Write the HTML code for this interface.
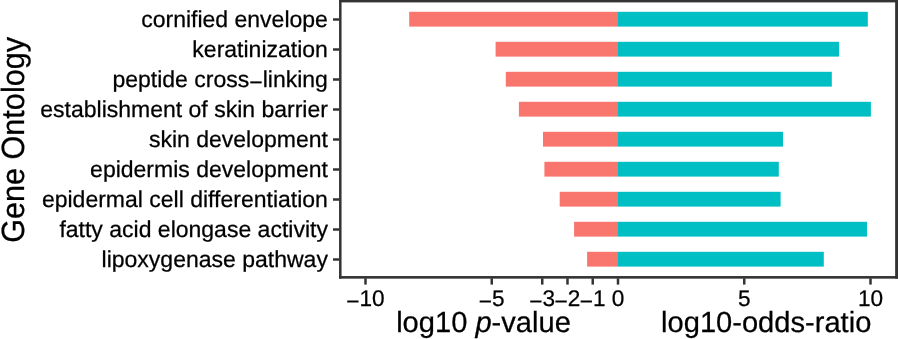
<!DOCTYPE html>
<html><head><meta charset="utf-8"><title>Gene Ontology</title>
<style>html,body{margin:0;padding:0;background:#fff}svg{display:block}text{text-rendering:geometricPrecision;font-family:"Liberation Sans",Arial,Helvetica,sans-serif;fill:#000;stroke:#000;stroke-width:0.25}</style></head>
<body>
<svg width="898" height="339" viewBox="0 0 898 339">
<rect x="0" y="0" width="898" height="339" fill="#ffffff"/>
<rect x="409.2" y="11.80" width="208.80" height="14.8" fill="#F8766D"/>
<rect x="618.0" y="11.80" width="249.80" height="14.8" fill="#00BFC4"/>
<rect x="495.6" y="41.80" width="122.40" height="14.8" fill="#F8766D"/>
<rect x="618.0" y="41.80" width="221.10" height="14.8" fill="#00BFC4"/>
<rect x="505.8" y="71.80" width="112.20" height="14.8" fill="#F8766D"/>
<rect x="618.0" y="71.80" width="213.80" height="14.8" fill="#00BFC4"/>
<rect x="518.9" y="101.80" width="99.10" height="14.8" fill="#F8766D"/>
<rect x="618.0" y="101.80" width="252.90" height="14.8" fill="#00BFC4"/>
<rect x="543.0" y="131.80" width="75.00" height="14.8" fill="#F8766D"/>
<rect x="618.0" y="131.80" width="165.00" height="14.8" fill="#00BFC4"/>
<rect x="544.4" y="161.80" width="73.60" height="14.8" fill="#F8766D"/>
<rect x="618.0" y="161.80" width="160.80" height="14.8" fill="#00BFC4"/>
<rect x="559.7" y="191.80" width="58.30" height="14.8" fill="#F8766D"/>
<rect x="618.0" y="191.80" width="162.60" height="14.8" fill="#00BFC4"/>
<rect x="574.1" y="221.80" width="43.90" height="14.8" fill="#F8766D"/>
<rect x="618.0" y="221.80" width="249.00" height="14.8" fill="#00BFC4"/>
<rect x="587.1" y="251.80" width="30.90" height="14.8" fill="#F8766D"/>
<rect x="618.0" y="251.80" width="205.80" height="14.8" fill="#00BFC4"/>
<rect x="339.05" y="0" width="558.95" height="2.4" fill="#333333"/>
<rect x="339.05" y="276.05" width="558.95" height="2.6" fill="#333333"/>
<rect x="339.05" y="0" width="2.5" height="278.65" fill="#333333"/>
<rect x="895.15" y="0" width="2.85" height="278.65" fill="#333333"/>
<line x1="333.0" x2="339.2" y1="19.50" y2="19.50" stroke="#333333" stroke-width="2.5"/>
<text x="327.9" y="27.20" font-size="23.0" text-anchor="end">cornified envelope</text>
<line x1="333.0" x2="339.2" y1="49.50" y2="49.50" stroke="#333333" stroke-width="2.5"/>
<text x="327.9" y="57.20" font-size="23.0" text-anchor="end">keratinization</text>
<line x1="333.0" x2="339.2" y1="79.50" y2="79.50" stroke="#333333" stroke-width="2.5"/>
<text x="327.9" y="87.20" font-size="23.0" text-anchor="end">peptide cross<tspan dy="2.6">−</tspan><tspan dy="-2.6">linking</tspan></text>
<line x1="333.0" x2="339.2" y1="109.50" y2="109.50" stroke="#333333" stroke-width="2.5"/>
<text x="327.9" y="117.20" font-size="23.0" text-anchor="end">establishment of skin barrier</text>
<line x1="333.0" x2="339.2" y1="139.50" y2="139.50" stroke="#333333" stroke-width="2.5"/>
<text x="327.9" y="147.20" font-size="23.0" text-anchor="end">skin development</text>
<line x1="333.0" x2="339.2" y1="169.50" y2="169.50" stroke="#333333" stroke-width="2.5"/>
<text x="327.9" y="177.20" font-size="23.0" text-anchor="end">epidermis development</text>
<line x1="333.0" x2="339.2" y1="199.50" y2="199.50" stroke="#333333" stroke-width="2.5"/>
<text x="327.9" y="207.20" font-size="23.0" text-anchor="end">epidermal cell differentiation</text>
<line x1="333.0" x2="339.2" y1="229.50" y2="229.50" stroke="#333333" stroke-width="2.5"/>
<text x="327.9" y="237.20" font-size="23.0" text-anchor="end">fatty acid elongase activity</text>
<line x1="333.0" x2="339.2" y1="259.50" y2="259.50" stroke="#333333" stroke-width="2.5"/>
<text x="327.9" y="267.20" font-size="23.0" text-anchor="end">lipoxygenase pathway</text>
<line x1="365.50" x2="365.50" y1="278.3" y2="284.6" stroke="#333333" stroke-width="2.5"/>
<text x="365.50" y="306.1" font-size="22.6" text-anchor="middle"><tspan dy="2.5">−</tspan><tspan dy="-2.5">10</tspan></text>
<line x1="491.75" x2="491.75" y1="278.3" y2="284.6" stroke="#333333" stroke-width="2.5"/>
<text x="491.75" y="306.1" font-size="22.6" text-anchor="middle"><tspan dy="2.5">−</tspan><tspan dy="-2.5">5</tspan></text>
<line x1="542.25" x2="542.25" y1="278.3" y2="284.6" stroke="#333333" stroke-width="2.5"/>
<text x="542.25" y="306.1" font-size="22.6" text-anchor="middle"><tspan dy="2.5">−</tspan><tspan dy="-2.5">3</tspan></text>
<line x1="567.50" x2="567.50" y1="278.3" y2="284.6" stroke="#333333" stroke-width="2.5"/>
<text x="567.50" y="306.1" font-size="22.6" text-anchor="middle"><tspan dy="2.5">−</tspan><tspan dy="-2.5">2</tspan></text>
<line x1="592.75" x2="592.75" y1="278.3" y2="284.6" stroke="#333333" stroke-width="2.5"/>
<text x="592.75" y="306.1" font-size="22.6" text-anchor="middle"><tspan dy="2.5">−</tspan><tspan dy="-2.5">1</tspan></text>
<line x1="618.00" x2="618.00" y1="278.3" y2="284.6" stroke="#333333" stroke-width="2.5"/>
<text x="618.00" y="306.1" font-size="22.6" text-anchor="middle">0</text>
<line x1="744.25" x2="744.25" y1="278.3" y2="284.6" stroke="#333333" stroke-width="2.5"/>
<text x="744.25" y="306.1" font-size="22.6" text-anchor="middle">5</text>
<line x1="870.50" x2="870.50" y1="278.3" y2="284.6" stroke="#333333" stroke-width="2.5"/>
<text x="870.50" y="306.1" font-size="22.6" text-anchor="middle">10</text>
<text x="483.5" y="331.7" font-size="29.1" text-anchor="middle">log10 <tspan font-style="italic">p</tspan>-value</text>
<text x="766.2" y="331.7" font-size="29.1" text-anchor="middle">log10-odds-ratio</text>
<text transform="translate(23.9,139.9) rotate(-90) scale(1,1.05)" font-size="30.6" text-anchor="middle">Gene Ontology</text>
</svg>
</body></html>
